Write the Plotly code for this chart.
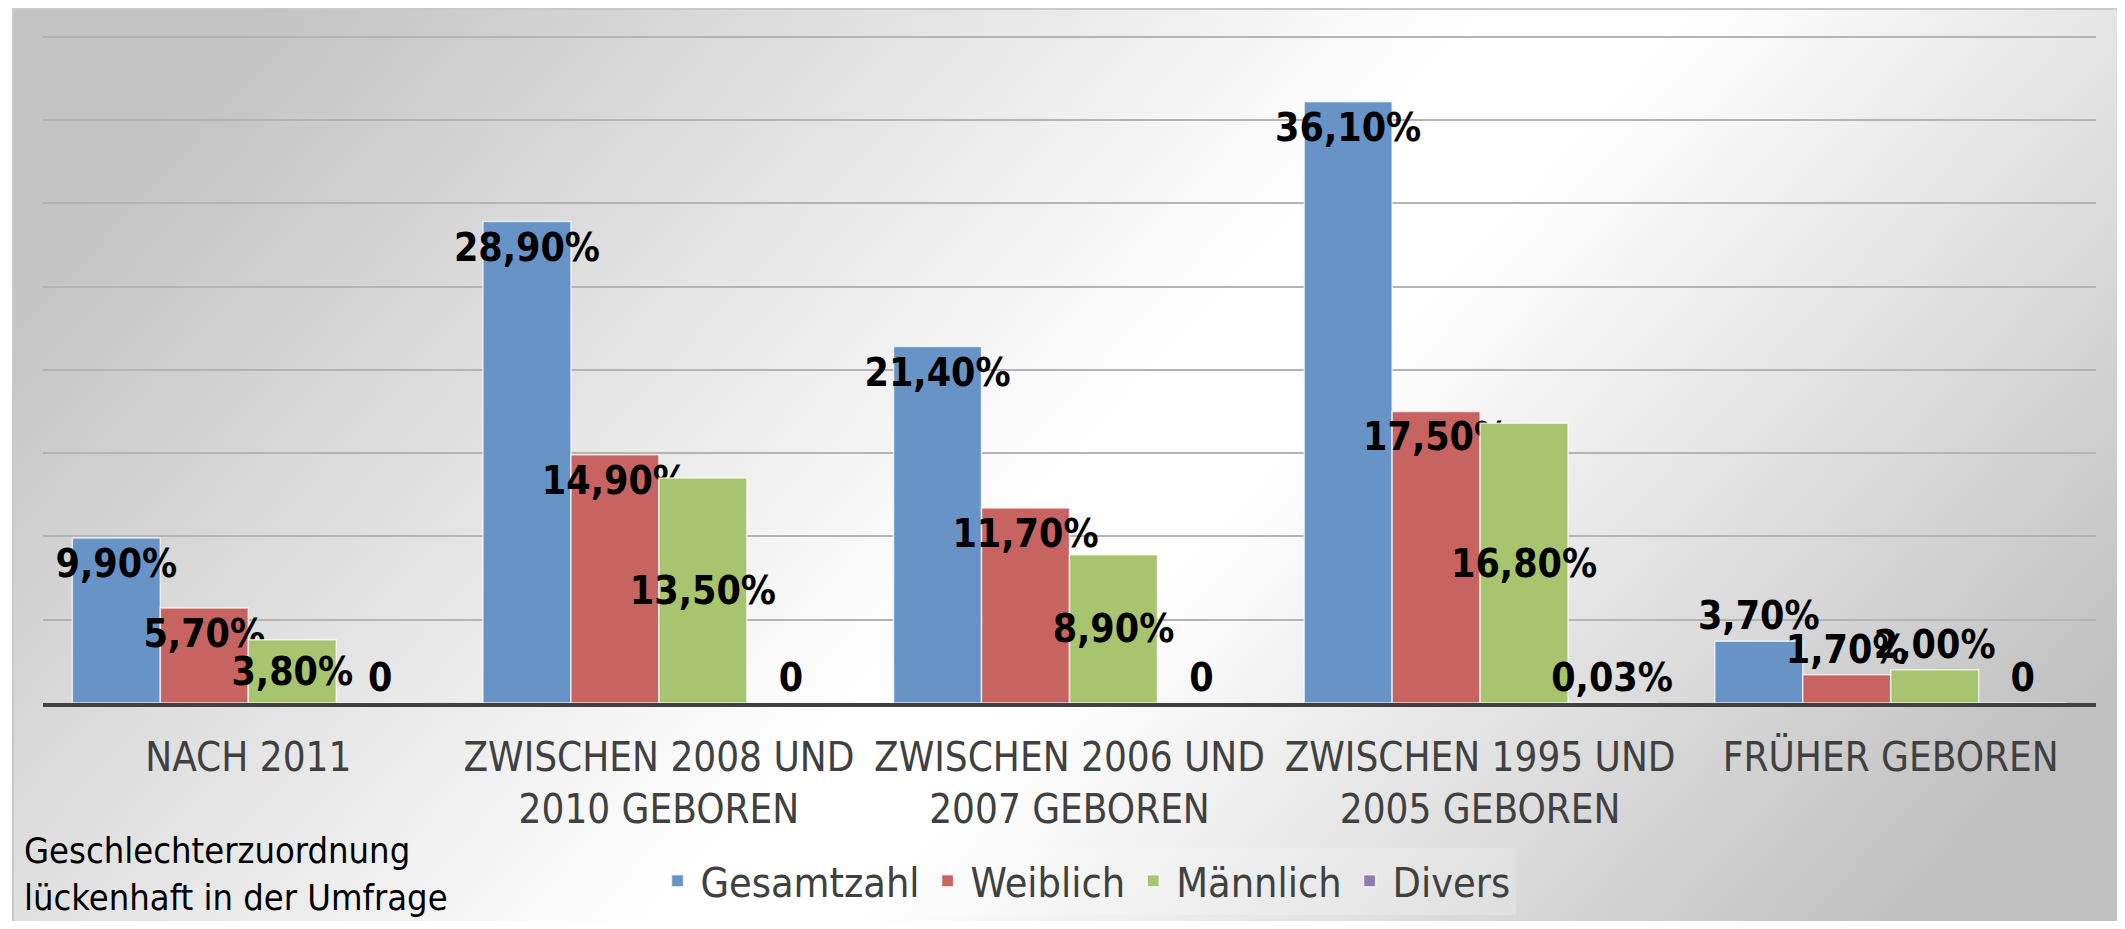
import base64
import plotly.graph_objects as go

categories = [
    "NACH 2011",
    "ZWISCHEN 2008 UND<br>2010 GEBOREN",
    "ZWISCHEN 2006 UND<br>2007 GEBOREN",
    "ZWISCHEN 1995 UND<br>2005 GEBOREN",
    "FRÜHER GEBOREN",
]
series_names = ["Gesamtzahl", "Weiblich", "Männlich", "Divers"]
gesamtzahl = [9.9, 28.9, 21.4, 36.1, 3.7]
weiblich = [5.7, 14.9, 11.7, 17.5, 1.7]
maennlich = [3.8, 13.5, 8.9, 16.8, 2.0]
divers = [0, 0, 0, 0.03, 0]
note_text = "Geschlechterzuordnung<br>lückenhaft in der Umfrage"

colors = ["#6793C7", "#C76462", "#A8C46E", "#8F7AB2"]
FONT = "DejaVu Sans Condensed, DejaVu Sans, sans-serif"


def fmt(v):
    if v == 0:
        return "0"
    return f"{v:.2f}".replace(".", ",") + "%"


positions = [
    ["inside", "inside", "inside", "inside", "outside"],
    ["inside", "inside", "inside", "inside", "outside"],
    ["inside", "inside", "inside", "inside", "outside"],
    ["outside"] * 5,
]
anchors = ["end", "end", "middle", "end"]

fig = go.Figure()
for name, vals, col, pos, anc in zip(series_names, [gesamtzahl, weiblich, maennlich, divers], colors, positions, anchors):
    fig.add_trace(go.Bar(
        name=name,
        x=categories,
        y=vals,
        text=[fmt(v) for v in vals],
        textposition=pos,
        insidetextanchor=anc,
        textangle=0,
        constraintext="none",
        cliponaxis=False,
        textfont=dict(family=FONT, size=39, color="black", weight="bold"),
        marker=dict(color=col, line=dict(color="rgba(255,255,255,0.7)", width=1.5)),
        hoverinfo="skip",
    ))

# the page body has an 8px margin: work in page coordinates, convert to figure coordinates
OFF = 8
W, H = 2125 - 2 * OFF, 929 - 2 * OFF
plot_left, plot_right, plot_top, plot_base = 43, 2096, 35, 703
L = plot_left - OFF
R = (OFF + W) - plot_right
T = plot_top - OFF
B = (OFF + H) - plot_base
pw, ph = W - L - R, H - T - B


def px(xp):
    return (xp - plot_left) / pw


def py(yp):
    return (plot_base - yp) / ph


svg = (
    "<svg xmlns='http://www.w3.org/2000/svg' width='2113' height='922' preserveAspectRatio='none'>"
    "<defs><linearGradient id='g' x1='0' y1='0.3' x2='1' y2='0.7'>"
    "<stop offset='0' stop-color='#c3c3c3'/>"
    "<stop offset='0.5' stop-color='#ffffff'/>"
    "<stop offset='0.58' stop-color='#ffffff'/>"
    "<stop offset='1' stop-color='#c1c1c1'/>"
    "</linearGradient></defs>"
    "<rect x='0' y='0' width='2113' height='922' fill='url(#g)'/>"
    "<rect x='1' y='1' width='2111' height='920' fill='none' stroke='#c9c9c9' stroke-width='2'/>"
    "</svg>"
)
src = "data:image/svg+xml;base64," + base64.b64encode(svg.encode()).decode()

fig.update_layout(
    width=W, height=H,
    margin=dict(l=L, r=R, t=T, b=B, autoexpand=False),
    paper_bgcolor="white",
    plot_bgcolor="rgba(0,0,0,0)",
    barmode="group",
    bargap=0.143,
    bargroupgap=0,
    font=dict(family=FONT, color="#404040"),
    showlegend=True,
    legend=dict(
        orientation="h",
        x=px(1085), xanchor="center",
        y=py(881), yanchor="middle",
        font=dict(family=FONT, size=41, color="#404040"),
        bgcolor="rgba(255,255,255,0.2)",
        traceorder="normal",
        itemwidth=36,
    ),
    images=[dict(
        source=src, xref="paper", yref="paper",
        x=px(12), y=py(OFF),
        sizex=(2125 + 4 - 12) / pw, sizey=(926 - OFF) / ph,
        xanchor="left", yanchor="top", sizing="stretch", layer="below",
    )],
    annotations=[dict(
        text=note_text, xref="paper", yref="paper",
        x=px(22), y=py(874),
        xanchor="left", yanchor="middle", align="left", showarrow=False,
        font=dict(family=FONT, size=36, color="black"),
    )],
)
fig.update_xaxes(
    showline=True, linecolor="#404040", linewidth=4,
    showgrid=False, ticks="", tickfont=dict(family=FONT, size=40, color="#404040"),
    ticklabelstandoff=16,
)
fig.update_yaxes(
    range=[0, 40.1], dtick=5, showticklabels=False, showgrid=True,
    gridcolor="#b4b4b4", gridwidth=1.5, zeroline=False,
)

fig.write_html("out.html")
